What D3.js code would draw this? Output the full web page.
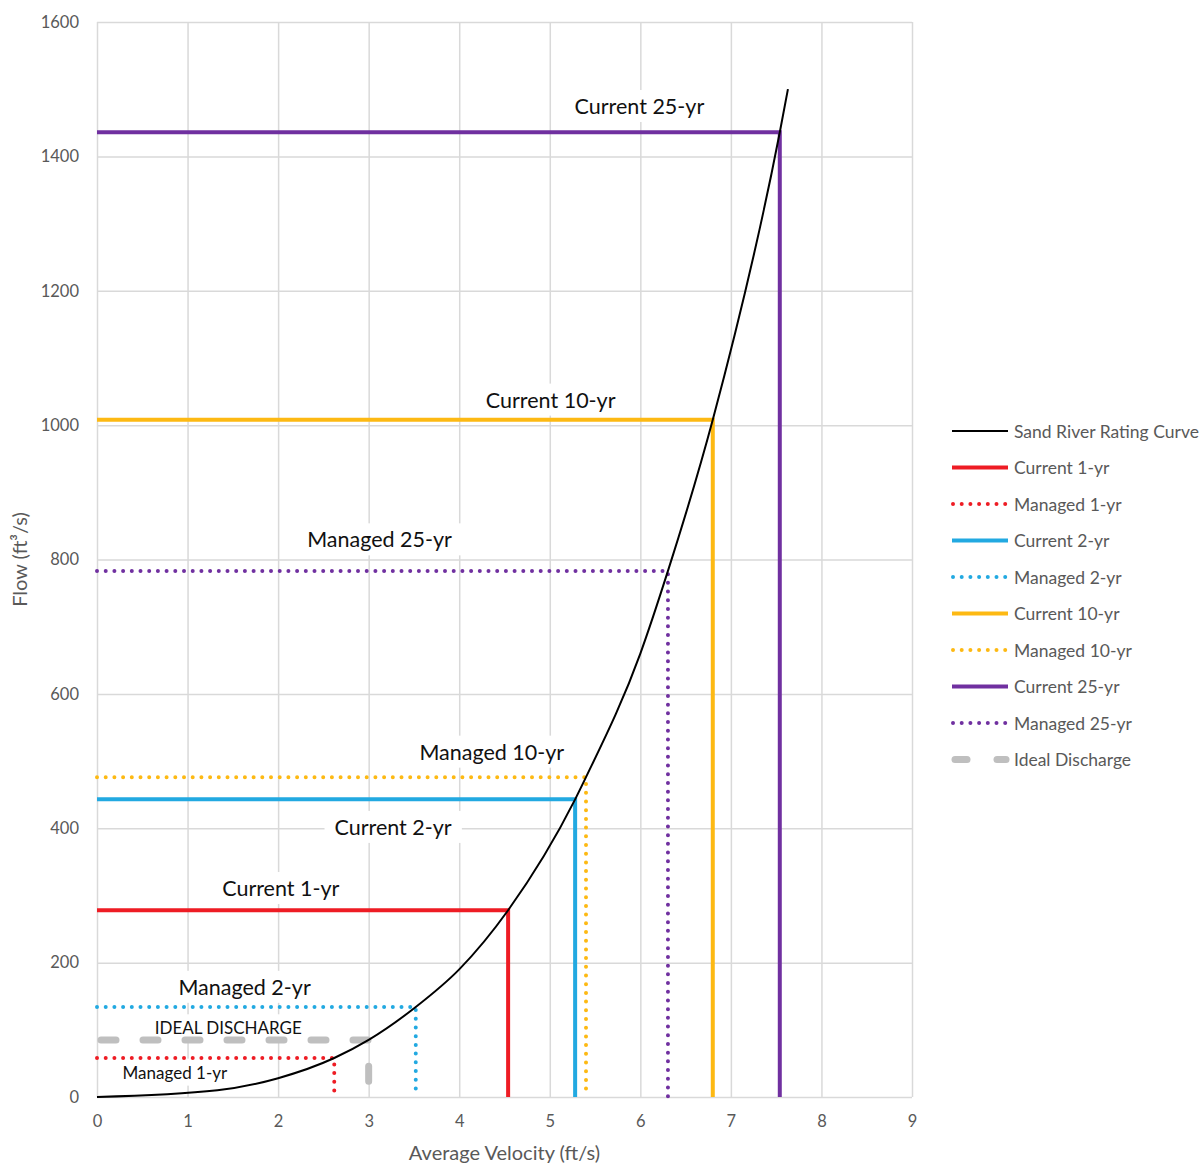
<!DOCTYPE html>
<html>
<head>
<meta charset="utf-8">
<script src="https://cdn.jsdelivr.net/npm/d3@7"></script>
<style>
  html, body { margin: 0; padding: 0; background: #fff; }
  svg { display: block; font-family: Lato, "Open Sans", sans-serif; }
</style>
</head>
<body>
<svg id="chart" width="1203" height="1163"></svg>
<script>
// Sand River rating curve: velocity (ft/s) vs flow (ft³/s)
const curveVelocity = [0, 1.33, 2.0, 2.62, 3.0, 3.52, 4.0, 4.54, 5.28, 5.40, 6.0, 6.305, 6.80, 7.54, 7.63];
const curveFlow     = [0, 10, 28, 58, 85, 134, 190, 278, 443, 476, 660, 783, 1008, 1436, 1500];

// Design events: flow and the matching velocity on the rating curve
const eventNames    = ["Current 1-yr", "Managed 1-yr", "Current 2-yr", "Managed 2-yr",
                       "Current 10-yr", "Managed 10-yr", "Current 25-yr", "Managed 25-yr"];
const eventFlow     = [278, 58, 443, 134, 1008, 476, 1436, 783];
const eventVelocity = [4.54, 2.62, 5.28, 3.52, 6.80, 5.40, 7.54, 6.305];
const eventColor    = ["#ee1c24", "#ee1c24", "#22a9e1", "#22a9e1",
                       "#fdb913", "#fdb913", "#7030a0", "#7030a0"];
const eventDotted   = [false, true, false, true, false, true, false, true];

// Ideal discharge target
const idealFlow = 85;
const idealVelocity = 3.0;

// Axis ticks
const xTicks = [0, 1, 2, 3, 4, 5, 6, 7, 8, 9];
const yTicks = [0, 200, 400, 600, 800, 1000, 1200, 1400, 1600];

// In-plot annotations, anchored in data units
const noteText = ["Current 25-yr", "Current 10-yr", "Managed 25-yr", "Managed 10-yr",
                  "Current 2-yr", "Current 1-yr", "Managed 2-yr", "IDEAL DISCHARGE", "Managed 1-yr"];
const noteX    = [5.99, 5.01, 3.12, 4.36, 3.27, 2.03, 1.63, 1.45, 0.86];
const noteY    = [1475, 1038, 830, 514, 402, 311, 164, 103, 37];
const noteSize = [21.5, 21.5, 21.5, 21.5, 21.5, 21.5, 21.5, 17, 17];

const svg = d3.select("#chart");
const margin = { left: 97, right: 291, top: 22, bottom: 66 };
const W = 1203, H = 1163;

const x = d3.scaleLinear().domain([0, 9]).range([margin.left, W - margin.right]);
const y = d3.scaleLinear().domain([0, 1600]).range([H - margin.bottom, margin.top]);

const grid = "#d9d9d9";
const tickColor = "#595959";

// Gridlines
svg.append("g")
  .attr("transform", `translate(0,${y(0)})`)
  .call(d3.axisBottom(x).tickValues(xTicks).tickSize(-(y(0) - y(1600))).tickFormat(""))
  .call(g => g.select(".domain").remove())
  .call(g => g.selectAll("line").attr("stroke", grid).attr("stroke-width", 1.5));
svg.append("g")
  .attr("transform", `translate(${x(0)},0)`)
  .call(d3.axisLeft(y).tickValues(yTicks).tickSize(-(x(9) - x(0))).tickFormat(""))
  .call(g => g.select(".domain").remove())
  .call(g => g.selectAll("line").attr("stroke", grid).attr("stroke-width", 1.5));

// Tick labels
svg.append("g")
  .attr("transform", `translate(0,${y(0)})`)
  .call(d3.axisBottom(x).tickValues(xTicks).tickSize(0).tickPadding(18).tickFormat(d3.format("d")))
  .call(g => g.select(".domain").remove())
  .call(g => g.selectAll("text").attr("fill", tickColor).attr("font-size", 16.5)
    .attr("font-family", "Lato, sans-serif"));
svg.append("g")
  .attr("transform", `translate(${x(0)},0)`)
  .call(d3.axisLeft(y).tickValues(yTicks).tickSize(0).tickPadding(18).tickFormat(d3.format("d")))
  .call(g => g.select(".domain").remove())
  .call(g => g.selectAll("text").attr("fill", tickColor).attr("font-size", 16.5)
    .attr("font-family", "Lato, sans-serif"));

// Axis titles
svg.append("text")
  .attr("x", (x(0) + x(9)) / 2).attr("y", 1160)
  .attr("text-anchor", "middle").attr("fill", tickColor).attr("font-size", 20)
  .text("Average Velocity (ft/s)");
svg.append("text")
  .attr("transform", `translate(27,${(y(0) + y(1600)) / 2}) rotate(-90)`)
  .attr("text-anchor", "middle").attr("fill", tickColor).attr("font-size", 20)
  .text("Flow (ft³/s)");

// Annotation labels with white backing boxes over the grid
const notes = svg.append("g");
noteText.forEach((t, i) => {
  const g = notes.append("g");
  const txt = g.append("text")
    .attr("x", x(noteX[i])).attr("y", y(noteY[i]))
    .attr("text-anchor", "middle").attr("dominant-baseline", "central")
    .attr("font-size", noteSize[i]).attr("fill", "#111")
    .text(t);
  const bb = txt.node().getBBox();
  g.insert("rect", "text")
    .attr("x", bb.x - 10).attr("y", bb.y - 3)
    .attr("width", bb.width + 20).attr("height", bb.height + 6)
    .attr("fill", "#fff");
});

// Ideal discharge: horizontal to the curve, then down to the axis
svg.append("path")
  .attr("d", d3.line()([[x(0), y(idealFlow)], [x(idealVelocity), y(idealFlow)], [x(idealVelocity), y(0)]]))
  .attr("fill", "none").attr("stroke", "#bfbfbf").attr("stroke-width", 7)
  .attr("stroke-linecap", "round").attr("stroke-dasharray", "15,27").attr("stroke-dashoffset", -4);

// Event lines: flow across to the curve, then down to the velocity axis
const eventLine = d3.line();
eventNames.forEach((n, i) => {
  const pts = [[x(0), y(eventFlow[i])], [x(eventVelocity[i]), y(eventFlow[i])], [x(eventVelocity[i]), y(0)]];
  const p = svg.append("path")
    .attr("d", eventLine(pts))
    .attr("fill", "none").attr("stroke", eventColor[i]).attr("stroke-width", 4);
  if (eventDotted[i]) {
    p.attr("stroke-linecap", "round").attr("stroke-dasharray", "0,8.7");
  } else {
    p.attr("stroke-linejoin", "miter");
  }
});

// Rating curve
const curvePts = curveVelocity.map((v, i) => [v, curveFlow[i]]);
svg.append("path")
  .attr("d", d3.line().x(d => x(d[0])).y(d => y(d[1])).curve(d3.curveMonotoneX)(curvePts))
  .attr("fill", "none").attr("stroke", "#000").attr("stroke-width", 2);

// Legend, in series order
const legendItems = [{ name: "Sand River Rating Curve", color: "#000", w: 2, dash: null }]
  .concat(eventNames.map((n, i) => ({
    name: n, color: eventColor[i], w: 4, dash: eventDotted[i] ? "0,8.7" : null
  })))
  .concat([{ name: "Ideal Discharge", color: "#bfbfbf", w: 7, dash: "dashed" }]);
const legend = svg.append("g");
legendItems.forEach((it, k) => {
  const ly = 431 + k * 36.5;
  if (it.dash === "dashed") {
    [[955, 967], [997, 1006]].forEach(s => legend.append("line")
      .attr("x1", s[0]).attr("x2", s[1]).attr("y1", ly).attr("y2", ly)
      .attr("stroke", it.color).attr("stroke-width", it.w).attr("stroke-linecap", "round"));
  } else {
    const l = legend.append("line")
      .attr("x1", it.dash ? 953 : 952).attr("x2", 1008).attr("y1", ly).attr("y2", ly)
      .attr("stroke", it.color).attr("stroke-width", it.w);
    if (it.dash) l.attr("stroke-dasharray", it.dash).attr("stroke-linecap", "round").attr("x2", 1007);
  }
  legend.append("text")
    .attr("x", 1014).attr("y", ly).attr("dominant-baseline", "central")
    .attr("fill", tickColor).attr("font-size", 17.5).text(it.name);
});
</script>
</body>
</html>
